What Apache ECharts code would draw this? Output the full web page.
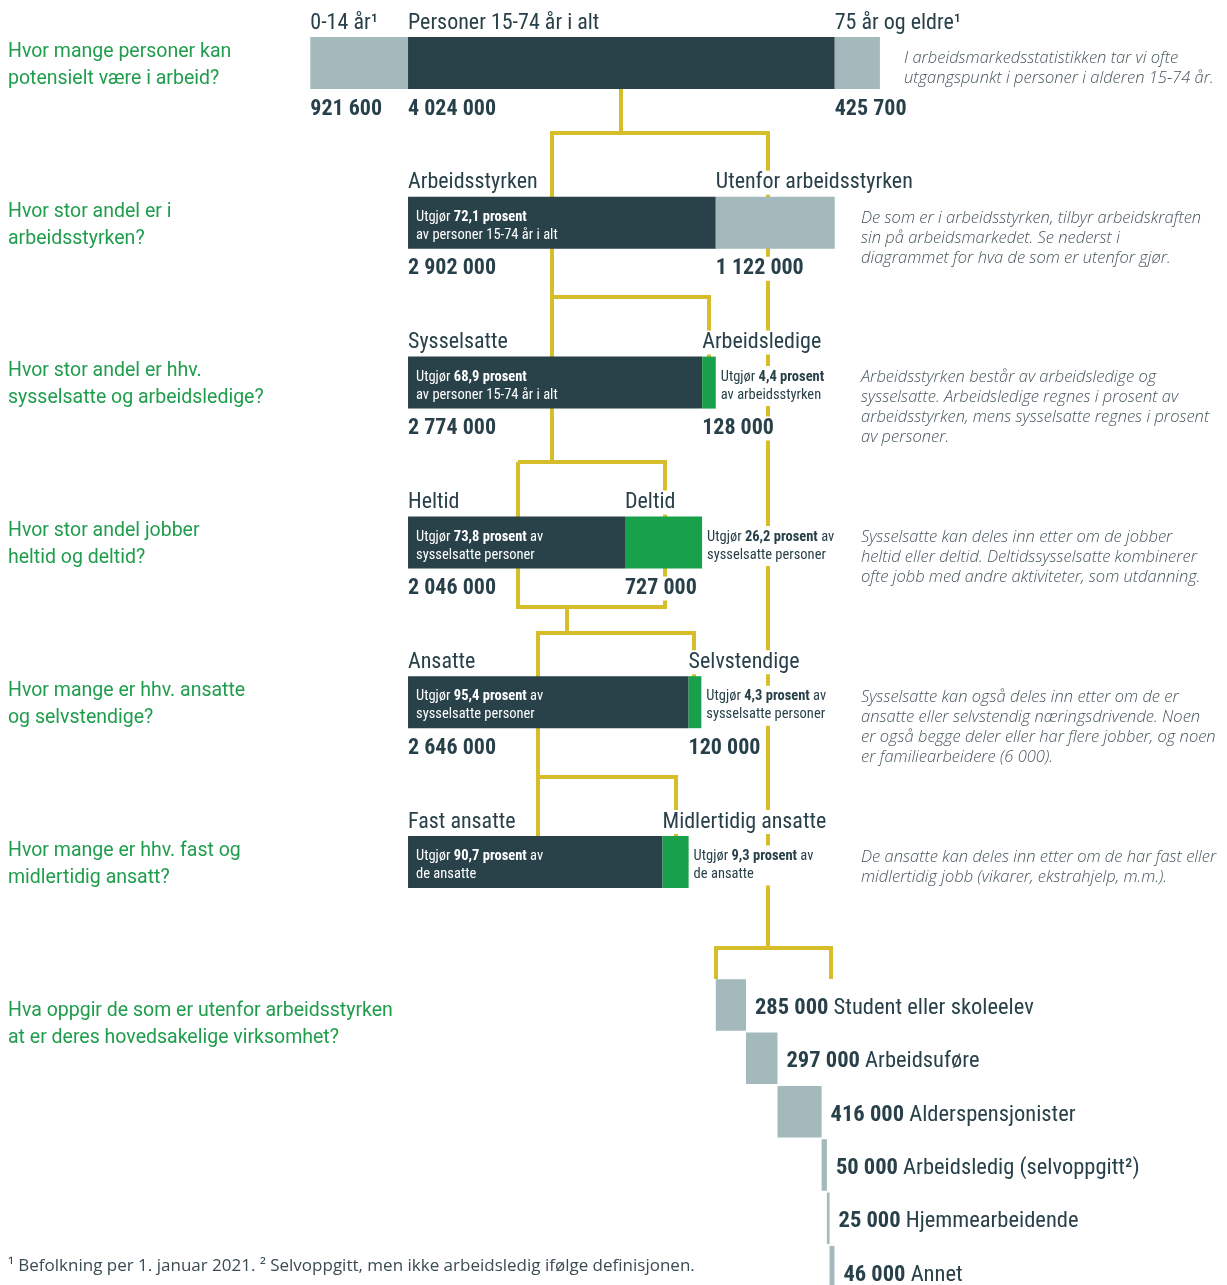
<!DOCTYPE html>
<html lang="no"><head><meta charset="utf-8"><title>Arbeidsmarkedet</title>
<script src="https://cdn.jsdelivr.net/npm/echarts@6.0.0/dist/echarts.min.js"></script>
<style>html,body{margin:0;padding:0;background:#fff;}#chart{width:1227px;height:1285px;}</style>
</head><body><div id="chart"></div>
<script>
// ---------------- DATA ----------------
const questions = [
  'Hvor mange personer kan\npotensielt være i arbeid?',
  'Hvor stor andel er i\narbeidsstyrken?',
  'Hvor stor andel er hhv.\nsysselsatte og arbeidsledige?',
  'Hvor stor andel jobber\nheltid og deltid?',
  'Hvor mange er hhv. ansatte\nog selvstendige?',
  'Hvor mange er hhv. fast og\nmidlertidig ansatt?',
  'Hva oppgir de som er utenfor arbeidsstyrken\nat er deres hovedsakelige virksomhet?'
];
const notes = [
  'I arbeidsmarkedsstatistikken tar vi ofte\nutgangspunkt i personer i alderen 15-74 år.',
  'De som er i arbeidsstyrken, tilbyr arbeidskraften\nsin på arbeidsmarkedet. Se nederst i\ndiagrammet for hva de som er utenfor gjør.',
  'Arbeidsstyrken består av arbeidsledige og\nsysselsatte. Arbeidsledige regnes i prosent av\narbeidsstyrken, mens sysselsatte regnes i prosent\nav personer.',
  'Sysselsatte kan deles inn etter om de jobber\nheltid eller deltid. Deltidssysselsatte kombinerer\nofte jobb med andre aktiviteter, som utdanning.',
  'Sysselsatte kan også deles inn etter om de er\nansatte eller selvstendig næringsdrivende. Noen\ner også begge deler eller har flere jobber, og noen\ner familiearbeidere (6 000).',
  'De ansatte kan deles inn etter om de har fast eller\nmidlertidig jobb (vikarer, ekstrahjelp, m.m.).'
];
const footnote = '¹ Befolkning per 1. januar 2021. ² Selvoppgitt, men ikke arbeidsledig ifølge definisjonen.';

const ageLabels = ['0-14 år¹', 'Personer 15-74 år i alt', '75 år og eldre¹'];
const ageValues = [921600, 4024000, 425700];

const labourLabels = ['Arbeidsstyrken', 'Utenfor arbeidsstyrken'];
const labourValues = [2902000, 1122000];
const labourShares = ['72,1', null];
const labourShareOf = ['av personer 15-74 år i alt', null];

const employLabels = ['Sysselsatte', 'Arbeidsledige'];
const employValues = [2774000, 128000];
const employShares = ['68,9', '4,4'];
const employShareOf = ['av personer 15-74 år i alt', 'av arbeidsstyrken'];

const hoursLabels = ['Heltid', 'Deltid'];
const hoursValues = [2046000, 727000];
const hoursShares = ['73,8', '26,2'];
const hoursShareOf = ['sysselsatte personer', 'sysselsatte personer'];

const statusLabels = ['Ansatte', 'Selvstendige'];
const statusValues = [2646000, 120000];
const statusShares = ['95,4', '4,3'];
const statusShareOf = ['sysselsatte personer', 'sysselsatte personer'];

const contractLabels = ['Fast ansatte', 'Midlertidig ansatte'];
const contractValues = [2400000, 246000];   // (not printed)
const contractShares = ['90,7', '9,3'];
const contractShareOf = ['de ansatte', 'de ansatte'];

const outsideLabels = ['Student eller skoleelev', 'Arbeidsuføre', 'Alderspensjonister',
  'Arbeidsledig (selvoppgitt²)', 'Hjemmearbeidende', 'Annet'];
const outsideValues = [285000, 297000, 416000, 50000, 25000, 46000];

// ---------------- LAYOUT / STYLE ----------------
const FONT_C = "'Roboto Condensed','Liberation Sans Narrow','Arial Narrow',Roboto,sans-serif";
const FONT_Q = "Roboto,'Noto Sans',sans-serif";
const FONT_N = "'Open Sans','Noto Sans',sans-serif";
const DARK = '#294148', LIGHT = '#a3b9bb', GREEN = '#18a04a', GOLD = '#d5be2a';
const INK = '#28404a', QGREEN = '#1f9d4c', NOTE = '#45565c';
const PX_PER_UNIT = 9430;       // persons per pixel
const MAXX = 5400000;
const GRID_W = MAXX / PX_PER_UNIT;

// connector polylines in [persons, row] coordinates of the main grid (decoration)
const connectorPaths = [
  [[2930000, 0.16], [2930000, 0.438]],
  [[2279000, 1.464], [2279000, 0.438], [4316000, 0.438], [4316000, 5.538]],
  [[3760000, 1.84], [3760000, 1.464], [2279000, 1.464], [2279000, 2.497]],
  [[1959000, 2.497], [3345000, 2.497], [3345000, 3.404], [1959000, 3.404], [1959000, 2.497]],
  [[2421000, 3.404], [2421000, 3.567]],
  [[2147000, 4.468], [2147000, 3.567], [3618000, 3.567], [3618000, 3.84]],
  [[2147000, 4.84], [2147000, 4.468], [3449000, 4.468], [3449000, 4.84]],
  [[3826000, 5.732], [3826000, 5.538], [4910000, 5.538], [4910000, 5.732]]
];

function fmt(v) { return String(v).replace(/\B(?=(\d{3})+(?!\d))/g, ' '); }

const rows = [
  { labels: ageLabels, values: ageValues, start: 0, colors: [LIGHT, DARK, LIGHT], showValues: true },
  { labels: labourLabels, values: labourValues, start: ageValues[0], colors: [DARK, LIGHT], showValues: true,
    shares: labourShares, shareOf: labourShareOf, tail: '' },
  { labels: employLabels, values: employValues, start: ageValues[0], colors: [DARK, GREEN], showValues: true,
    shares: employShares, shareOf: employShareOf, tail: '' },
  { labels: hoursLabels, values: hoursValues, start: ageValues[0], colors: [DARK, GREEN], showValues: true,
    shares: hoursShares, shareOf: hoursShareOf, tail: ' av' },
  { labels: statusLabels, values: statusValues, start: ageValues[0], colors: [DARK, GREEN], showValues: true,
    shares: statusShares, shareOf: statusShareOf, tail: ' av' },
  { labels: contractLabels, values: contractValues, start: ageValues[0], colors: [DARK, GREEN], showValues: false,
    shares: contractShares, shareOf: contractShareOf, tail: ' av' }
];

const mainItems = [];
rows.forEach((r, ri) => {
  let s = r.start;
  r.values.forEach((v, si) => {
    let share = null;
    if (r.shares && r.shares[si]) {
      share = '{n|Utgjør }{b|' + r.shares[si] + ' prosent}' + (r.tail ? '{n|' + r.tail + '}' : '') +
        '\n{n|' + r.shareOf[si] + '}';
    }
    mainItems.push({ start: s, end: s + v, row: ri, seg: si, title: r.labels[si],
      valueText: r.showValues ? fmt(v) : null, color: r.colors[si], share });
    s += v;
  });
});

const outsideItems = [];
(function () {
  let s = ageValues[0] + labourValues[0];
  outsideValues.forEach((v, i) => {
    outsideItems.push({ start: s, end: s + v, row: i, label: outsideLabels[i], valueText: fmt(v) });
    s += v;
  });
})();

function richFor(color) {
  return {
    n: { fontFamily: FONT_C, fontSize: 14.5, fill: color, lineHeight: 18 },
    b: { fontFamily: FONT_C, fontSize: 14.5, fontWeight: 'bold', fill: color, lineHeight: 18 }
  };
}

function renderConnector(params, api) {
  const pts = connectorPaths[params.dataIndex].map(p => api.coord(p));
  return { type: 'polyline', shape: { points: pts },
    style: { stroke: GOLD, lineWidth: 4, fill: null, lineJoin: 'miter', lineCap: 'butt' } };
}

function renderMain(params, api) {
  const it = mainItems[params.dataIndex];
  const a = api.coord([it.start, it.row]);
  const b = api.coord([it.end, it.row]);
  const h = 52, top = a[1] - h / 2, bot = a[1] + h / 2;
  const kids = [{ type: 'rect', z2: 1, shape: { x: a[0], y: top, width: b[0] - a[0], height: h },
    style: { fill: it.color } }];
  kids.push({ type: 'text', z2: 10, x: a[0] - 3, y: top - 2,
    style: { text: it.title, fontFamily: FONT_C, fontSize: 22, fill: INK, align: 'left',
      verticalAlign: 'bottom', backgroundColor: '#fff', padding: [1, 3, 1, 3] } });
  if (it.valueText) {
    kids.push({ type: 'text', z2: 10, x: a[0] - 3, y: bot + 8,
      style: { text: it.valueText, fontFamily: FONT_C, fontSize: 22, fontWeight: 'bold', fill: INK,
        align: 'left', verticalAlign: 'top', backgroundColor: '#fff', padding: [1, 3, 1, 3] } });
  }
  if (it.share) {
    const inside = it.seg === 0;
    kids.push({ type: 'text', z2: 10, x: inside ? a[0] + 8 : b[0] + 2, y: a[1] + 3.5,
      style: { text: it.share, rich: richFor(inside ? '#ffffff' : INK), fontFamily: FONT_C, fontSize: 14.5,
        align: 'left', verticalAlign: 'middle', lineHeight: 18,
        backgroundColor: inside ? null : '#fff', padding: inside ? 0 : [2, 3, 2, 3] } });
  }
  return { type: 'group', children: kids };
}

function renderOutside(params, api) {
  const it = outsideItems[params.dataIndex];
  const a = api.coord([it.start, it.row]);
  const b = api.coord([it.end, it.row]);
  const h = 51.5;
  return { type: 'group', children: [
    { type: 'rect', shape: { x: a[0], y: a[1] - h / 2, width: Math.max(b[0] - a[0], 1), height: h },
      style: { fill: LIGHT } },
    { type: 'text', x: b[0] + 9, y: a[1] + 3.5,
      style: { text: '{b|' + it.valueText + '}{n| ' + it.label + '}', verticalAlign: 'middle', align: 'left',
        rich: { b: { fontFamily: FONT_C, fontSize: 22.5, fontWeight: 'bold', fill: INK },
                n: { fontFamily: FONT_C, fontSize: 22.5, fill: INK } } } }
  ] };
}

function renderQuestion(params, api) {
  const y = api.coord([0, params.dataIndex])[1];
  return { type: 'text', x: 8, y: y + 2.5,
    style: { text: questions[params.dataIndex], fontFamily: FONT_Q, fontSize: 19.5, fill: QGREEN,
      lineHeight: 27, align: 'left', verticalAlign: 'middle' } };
}

function renderNote(params, api) {
  const i = params.dataIndex;
  const y = api.coord([0, i])[1];
  return { type: 'text', x: i === 0 ? 904 : 861, y: y - 15,
    style: { text: notes[i], fontFamily: FONT_N, fontSize: 16.5, fontStyle: 'italic', fontWeight: 300,
      fill: NOTE, lineHeight: 20, align: 'left', verticalAlign: 'top' } };
}

const chart = echarts.init(document.getElementById('chart'), null, { renderer: 'canvas' });
chart.setOption({
  animation: false,
  backgroundColor: '#ffffff',
  grid: [
    { left: 310.3, top: 23.05, width: GRID_W, height: 878.9, outerBoundsMode: 'none' },
    { left: 310.3, top: 978.3, width: GRID_W, height: 304, outerBoundsMode: 'none' }
  ],
  xAxis: [
    { gridIndex: 0, type: 'value', min: 0, max: MAXX, show: false },
    { gridIndex: 1, type: 'value', min: 0, max: MAXX, show: false }
  ],
  yAxis: [
    { gridIndex: 0, type: 'value', inverse: true, min: -0.25, max: 5.25, show: false },
    { gridIndex: 1, type: 'value', inverse: true, min: -0.5, max: 5.2, show: false }
  ],
  graphic: [
    { type: 'text', left: 8, top: 1258,
      style: { text: footnote, fontFamily: FONT_N, fontSize: 17, fill: '#3a4b52' } }
  ],
  series: [
    { type: 'custom', name: 'connectors', xAxisIndex: 0, yAxisIndex: 0, z: 1, clip: false, silent: true,
      data: connectorPaths.map((p, i) => [p[0][0], p[0][1]]), renderItem: renderConnector },
    { type: 'custom', name: 'bars', xAxisIndex: 0, yAxisIndex: 0, z: 2, clip: false,
      encode: { x: [0, 1], y: 2 },
      data: mainItems.map(d => [d.start, d.end, d.row]), renderItem: renderMain },
    { type: 'custom', name: 'outside', xAxisIndex: 1, yAxisIndex: 1, z: 2, clip: false,
      encode: { x: [0, 1], y: 2 },
      data: outsideItems.map(d => [d.start, d.end, d.row]), renderItem: renderOutside },
    { type: 'custom', name: 'questions', xAxisIndex: 0, yAxisIndex: 0, z: 3, clip: false, silent: true,
      data: questions.map((q, i) => [0, i]), renderItem: renderQuestion },
    { type: 'custom', name: 'notes', xAxisIndex: 0, yAxisIndex: 0, z: 3, clip: false, silent: true,
      data: notes.map((q, i) => [0, i]), renderItem: renderNote }
  ]
});
</script>
</body></html>
